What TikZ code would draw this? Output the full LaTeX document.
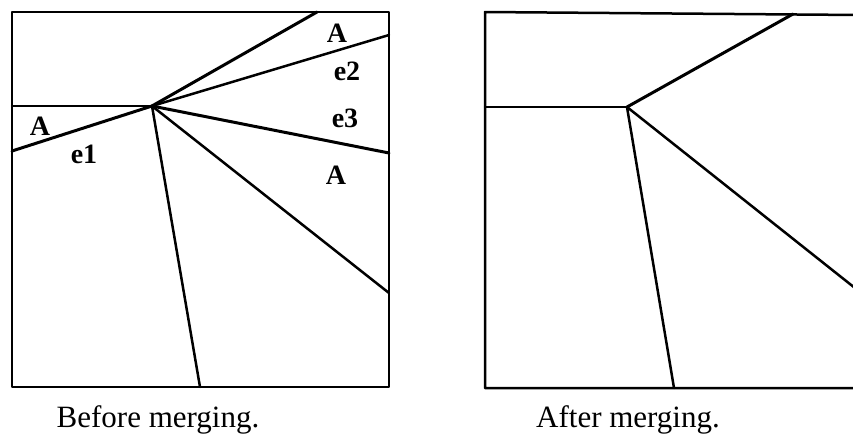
\documentclass[tikz,border=0pt]{standalone}
\usepackage{fontspec}
\setmainfont{Liberation Serif}
\usetikzlibrary{positioning}

\begin{document}
\begin{tikzpicture}[
    x=1pt, y=-1pt,
    edge/.style={line width=2.5pt, line cap=round, line join=round},
    frame/.style={line width=2.5pt, line join=round},
    lbl/.style={font=\fontsize{28}{30}\selectfont\bfseries, inner sep=0pt},
    caption/.style={font=\fontsize{31}{36}\selectfont, inner sep=0pt},
]
    \useasboundingbox (0,0) rectangle (853,440);
    \clip (0,0) rectangle (853,440);

    % Before merging.
    \coordinate (bv) at (152,106);
    \draw[frame] (12,12) rectangle (389,387);
    \draw[edge] (12,106) -- (bv);
    \draw[edge, line width=3pt] (12,151) -- (bv);
    \draw[edge, line width=3pt] (bv) -- (317,12);
    \draw[edge] (bv) -- (389,35);
    \draw[edge, line width=3pt] (bv) -- (389,153);
    \draw[edge] (bv) -- (389,293);
    \draw[edge] (bv) -- (200,387);

    \node[lbl] (aTop)   at (337,33)  {A};
    \node[lbl] (eTwo)   at (347,71)  {e2};
    \node[lbl] (eThree) at (345,118) {e3};
    \node[lbl] (aRight) at (336,175) {A};
    \node[lbl] (aLeft)  at (40,126)  {A};
    \node[lbl] (eOne)   at (84,154)  {e1};

    % After merging.
    \coordinate (av) at (627,107);
    \draw[frame] (860,15) -- (485,12) -- (485,388) -- (860,388);
    \draw[edge] (485,107) -- (av);
    \draw[edge, line width=3pt] (av) -- (793,14);
    \draw[edge] (av) -- (860,292);
    \draw[edge] (av) -- (674,388);

    % Captions.
    \node[caption] (before) at (158,420) {Before merging.};
    \node[caption] (after)  at (628,420) {After merging.};
\end{tikzpicture}
\end{document}
